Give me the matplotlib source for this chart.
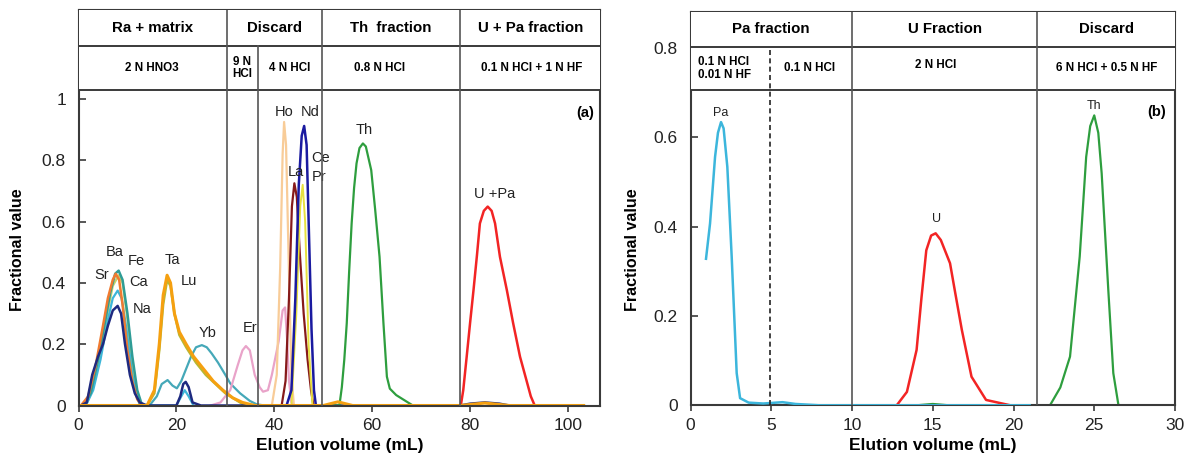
import matplotlib
matplotlib.use("Agg")
import matplotlib.pyplot as plt
from matplotlib.patches import Rectangle

plt.rcParams['font.family'] = ['Liberation Sans', 'DejaVu Sans']
NARROW = ['Liberation Sans Narrow', 'Liberation Sans', 'DejaVu Sans']

# ---------------- Panel (a) data ----------------
na_x = [0.5, 1.7, 2.8, 4.0, 5.0, 6.0, 7.0, 8.0, 8.7, 9.5, 10.5, 11.5, 12.5, 14, 20, 20.8, 21.4, 21.9, 22.5, 23.3, 25, 78, 80, 83, 86, 88]
na_y = [0, 0.01, 0.1, 0.16, 0.2, 0.26, 0.31, 0.325, 0.30, 0.2, 0.1, 0.04, 0.01, 0, 0, 0.03, 0.07, 0.077, 0.06, 0.01, 0, 0, 0.006, 0.01, 0.006, 0]

ba_x = [1, 2.5, 4, 5.5, 6.5, 7.5, 8.2, 9, 10, 11, 12, 13]
ba_y = [0, 0.04, 0.15, 0.28, 0.37, 0.43, 0.44, 0.41, 0.30, 0.16, 0.05, 0]

fe_x = [1.5, 3, 4.5, 6, 7, 8.2, 9, 10, 11, 12.5]
fe_y = [0, 0.06, 0.18, 0.31, 0.39, 0.425, 0.40, 0.28, 0.13, 0]

ca_x = [1.5, 3, 4.5, 6, 7, 8, 8.8, 9.8, 11, 12.5, 20, 21, 21.7, 22.5, 23.5]
ca_y = [0, 0.05, 0.15, 0.28, 0.35, 0.375, 0.35, 0.25, 0.10, 0, 0, 0.03, 0.05, 0.03, 0]

sr_x = [0.5, 2.0, 3.5, 5.0, 6.0, 7.0, 7.6, 8.3, 9.0, 10.0, 11.0, 12.0, 13.0]
sr_y = [0, 0.03, 0.13, 0.26, 0.35, 0.41, 0.43, 0.41, 0.33, 0.18, 0.08, 0.02, 0]

ta_x = [0, 14, 15.5, 16.5, 17.3, 18.1, 18.8, 19.6, 20.6, 22, 23.5, 25.5, 27.5, 29.5, 31.5, 33.5, 36, 50, 53, 56, 78, 83, 88, 103.2]
ta_y = [0, 0, 0.05, 0.2, 0.36, 0.425, 0.40, 0.30, 0.24, 0.20, 0.16, 0.12, 0.08, 0.05, 0.025, 0.01, 0, 0, 0.012, 0, 0, 0.008, 0, 0]

lu_x = [14, 15.5, 16.5, 17.3, 18.1, 18.8, 19.6, 20.6, 22, 24, 26, 28, 30, 32, 34]
lu_y = [0, 0.04, 0.18, 0.33, 0.41, 0.39, 0.30, 0.23, 0.19, 0.14, 0.10, 0.07, 0.04, 0.02, 0]

yb_x = [14.5, 16, 17, 18.2, 19.2, 20.1, 21, 22, 23, 24, 25.2, 26.2, 27.2, 28.5, 30, 31.0, 33, 35, 36.4, 38]
yb_y = [0, 0.03, 0.07, 0.083, 0.065, 0.056, 0.08, 0.12, 0.16, 0.19, 0.197, 0.19, 0.17, 0.14, 0.10, 0.072, 0.04, 0.015, 0.004, 0]

er_x = [27, 29, 31, 32.5, 33.5, 34.2, 35, 36, 37, 37.7, 38.7, 39.5, 40.9, 41.7, 42.2, 42.6, 43.0, 43.5, 44]
er_y = [0, 0.01, 0.05, 0.13, 0.18, 0.194, 0.18, 0.10, 0.06, 0.045, 0.05, 0.10, 0.21, 0.31, 0.32, 0.22, 0.08, 0.01, 0]

ho_x = [39.5, 40.5, 41.2, 41.7, 42.0, 42.4, 42.9, 43.5, 44.0]
ho_y = [0, 0.10, 0.45, 0.82, 0.925, 0.85, 0.50, 0.10, 0]

la_x = [41.5, 42.3, 43.0, 43.6, 44.1, 44.6, 45.2, 46.0, 46.8, 47.5, 48.0]
la_y = [0, 0.08, 0.35, 0.65, 0.725, 0.68, 0.50, 0.30, 0.15, 0.05, 0]

ce_x = [43.5, 44.5, 45.3, 45.8, 46.3, 47.0, 47.8]
ce_y = [0, 0.30, 0.65, 0.72, 0.60, 0.20, 0]

nd_x = [42.5, 43.5, 44.3, 45.0, 45.6, 46.1, 46.6, 47.1, 47.6, 48.1, 48.5]
nd_y = [0, 0.05, 0.35, 0.72, 0.88, 0.912, 0.85, 0.55, 0.25, 0.05, 0]

th_a_x = [50, 53.3, 53.8, 54.3, 54.8, 55.3, 55.8, 56.3, 56.8, 57.4, 58.1, 58.7, 59.8, 60.6, 61.5, 62.3, 63.0, 63.6, 64.9, 68.3]
th_a_y = [0, 0, 0.06, 0.15, 0.268, 0.44, 0.594, 0.71, 0.79, 0.84, 0.855, 0.845, 0.768, 0.64, 0.485, 0.268, 0.094, 0.055, 0.034, 0]

upa_x = [78.1, 78.6, 79.3, 80.0, 80.7, 81.4, 82.0, 82.8, 83.6, 84.4, 85.1, 86.1, 87.5, 88.8, 90.2, 91.5, 92.4, 93.2]
upa_y = [0, 0.05, 0.159, 0.27, 0.377, 0.49, 0.594, 0.635, 0.649, 0.635, 0.594, 0.485, 0.377, 0.268, 0.159, 0.083, 0.03, 0]

a_series = [
    (yb_x, yb_y, '#45A8B8', 1.6),
    (er_x, er_y, '#E9A3C9', 1.6),
    (fe_x, fe_y, '#C9D36A', 1.6),
    (lu_x, lu_y, '#B7B833', 1.8),
    (ca_x, ca_y, '#3CB6D8', 1.6),
    (ba_x, ba_y, '#2E9C96', 1.8),
    (sr_x, sr_y, '#F07A30', 1.8),
    (na_x, na_y, '#1E2A80', 1.8),
    (ho_x, ho_y, '#F8CC98', 1.6),
    (la_x, la_y, '#861A1A', 1.6),
    (ce_x, ce_y, '#E6E040', 1.4),
    (nd_x, nd_y, '#1A1AA0', 1.8),
    (th_a_x, th_a_y, '#2E9E3E', 1.6),
    (upa_x, upa_y, '#F22424', 1.8),
    (ta_x, ta_y, '#F5A010', 2.2),
]

a_labels = [('Ba', 7.4, 0.50), ('Fe', 11.9, 0.472), ('Sr', 4.7, 0.425), ('Ca', 12.3, 0.402),
            ('Na', 13.0, 0.315), ('Ta', 19.1, 0.476), ('Lu', 22.5, 0.405), ('Yb', 26.3, 0.238),
            ('Er', 35.0, 0.252), ('Ho', 42.0, 0.958), ('Nd', 47.3, 0.958), ('Ce', 49.4, 0.806),
            ('La', 44.4, 0.762), ('Pr', 49.2, 0.744), ('Th', 58.4, 0.90), ('U +Pa', 85.0, 0.69)]

# ---------------- Panel (b) data ----------------
pa_x = [0.96, 1.21, 1.52, 1.7, 1.89, 2.05, 2.28, 2.55, 2.86, 3.07, 3.6, 4.5, 5.7, 6.5, 8, 10, 14, 18, 21]
pa_y = [0.328, 0.407, 0.556, 0.61, 0.634, 0.62, 0.534, 0.333, 0.072, 0.016, 0.006, 0.004, 0.007, 0.003, 0, 0, 0, 0, 0]

u_x = [12.77, 13.4, 14.0, 14.3, 14.6, 14.9, 15.18, 15.5, 16.07, 16.4, 16.8, 17.4, 18.3, 19.8]
u_y = [0, 0.03, 0.124, 0.24, 0.347, 0.38, 0.385, 0.37, 0.318, 0.25, 0.169, 0.064, 0.012, 0]

th_b_x = [1.0, 10, 14, 15, 16, 21.5, 22.26, 22.9, 23.5, 24.1, 24.5, 24.75, 25.0, 25.25, 25.46, 25.87, 26.18, 26.5]
th_b_y = [0, 0, 0, 0.003, 0, 0, 0, 0.04, 0.109, 0.333, 0.556, 0.625, 0.649, 0.61, 0.519, 0.258, 0.072, 0]

b_labels = [('Pa', 1.89, 0.655), ('U', 15.24, 0.418), ('Th', 25.0, 0.670)]

# ---------------- Figure ----------------
W, H = 1197, 468
fig = plt.figure(figsize=(W / 100, H / 100), dpi=100)
spine_c = '#3a3a3a'
div_c = '#555555'


def px_axes(x0, x1, ytop, ybot):
    return fig.add_axes([x0 / W, (H - ybot) / H, (x1 - x0) / W, (ybot - ytop) / H])


def style(ax):
    for s in ax.spines.values():
        s.set_color(spine_c)
        s.set_linewidth(1.5)
    ax.tick_params(axis='x', direction='out', length=4, width=1.2, pad=5, labelsize=12.5, colors=spine_c)
    ax.tick_params(axis='y', direction='in', length=5, width=1.2, pad=9, labelsize=12.5, colors=spine_c)
    for t in ax.get_xticklabels():
        t.set_family(NARROW)
        t.set_color('#222222')
    for t in ax.get_yticklabels():
        t.set_color('#222222')


# ----- Panel (a) -----
axa = px_axes(78.5, 600, 10, 405.5)
ya_top = (405.5 - 10) / 306.5
ya_hb = (405.5 - 90) / 306.5
ya_hm = (405.5 - 46) / 306.5
axa.set_xlim(0, (600 - 78.5) / 4.895)
axa.set_ylim(0, ya_top)
for xs, ys, c, lw in a_series:
    axa.plot(xs, ys, color=c, lw=lw, solid_joinstyle='round', zorder=2)
for name, x, y in a_labels:
    axa.text(x, y, name, fontsize=10.5, ha='center', va='center', color='#222222', zorder=4)
axa.text(103.6, 0.955, '(a)', fontsize=10.5, fontweight='bold', ha='center', va='center', zorder=4)
axa.set_xticks([0, 20, 40, 60, 80, 100])
axa.set_yticks([0, 0.2, 0.4, 0.6, 0.8, 1.0])
axa.set_yticklabels(['0', '0.2', '0.4', '0.6', '0.8', '1'])
style(axa)

# header (a)
axa.add_patch(Rectangle((0, ya_hb), 200, 1, facecolor='white', edgecolor='none', zorder=5))
axa.axhline(ya_hb, color=spine_c, lw=1.4, zorder=6)
axa.axhline(ya_hm, color=spine_c, lw=1.4, zorder=6)
for xv in [30.3, 49.7, 78.0]:
    axa.plot([xv, xv], [0, ya_top], color=div_c, lw=1.2, zorder=6)
axa.plot([36.6, 36.6], [0, ya_hm], color=div_c, lw=1.2, zorder=6)

r1 = (ya_hm + ya_top) / 2
r2 = (ya_hb + ya_hm) / 2
hdr_a1 = [('Ra + matrix', 15.2), ('Discard', 40.0), ('Th  fraction', 63.8), ('U + Pa fraction', 92.3)]
hdr_a2 = [('2 N HNO3', 15.0), ('9 N\nHCl', 33.45), ('4 N HCl', 43.1), ('0.8 N HCl', 61.6), ('0.1 N HCl + 1 N HF', 92.6)]
for t, x in hdr_a1:
    axa.text(x, r1, t, fontsize=10.8, fontweight='bold', ha='center', va='center', zorder=7)
for t, x in hdr_a2:
    axa.text(x, r2, t, fontsize=8.4, fontweight='bold', ha='center', va='center', zorder=7,
             linespacing=1.0)

axa.set_ylabel('Fractional value', fontsize=11.5, fontweight='bold', labelpad=8)
axa.yaxis.set_label_coords(-(78.5 - 25) / (600 - 78.5), (405.5 - 250) / (405.5 - 10))
axa.set_xlabel('Elution volume (mL)', fontsize=12.5, fontweight='bold', family=NARROW)
axa.xaxis.set_label_coords((340 - 78.5) / (600 - 78.5), -(438 - 405.5) / (405.5 - 10))

# ----- Panel (b) -----
axb = px_axes(690.5, 1175, 11.7, 405.3)
yb_top = (405.3 - 11.7) / 446.7
yb_hb = (405.3 - 90) / 446.7
yb_hm = (405.3 - 46.7) / 446.7
axb.set_xlim(0, 30)
axb.set_ylim(0, yb_top)
axb.plot(th_b_x, th_b_y, color='#2E9E3E', lw=1.6, zorder=2)
axb.plot(u_x, u_y, color='#F22424', lw=1.8, zorder=2)
axb.plot(pa_x, pa_y, color='#3CB6DC', lw=1.8, zorder=3)
for name, x, y in b_labels:
    axb.text(x, y, name, fontsize=9, ha='center', va='center', color='#222222', zorder=4)
axb.text(28.85, 0.657, '(b)', fontsize=10.5, fontweight='bold', ha='center', va='center', zorder=4)
axb.set_xticks([0, 5, 10, 15, 20, 25, 30])
axb.set_yticks([0, 0.2, 0.4, 0.6, 0.8])
axb.set_yticklabels(['0', '0.2', '0.4', '0.6', '0.8'])
style(axb)

axb.add_patch(Rectangle((0, yb_hb), 40, 1, facecolor='white', edgecolor='none', zorder=5))
axb.axhline(yb_hb, color=spine_c, lw=1.4, zorder=6)
axb.axhline(yb_hm, color=spine_c, lw=1.4, zorder=6)
for xv in [9.98, 21.47]:
    axb.plot([xv, xv], [0, yb_top], color=div_c, lw=1.2, zorder=6)
axb.plot([4.92, 4.92], [0, yb_hm], color='#222222', lw=1.2, ls=(0, (3, 2)), zorder=6)

s1 = (yb_hm + yb_top) / 2
s2 = (yb_hb + yb_hm) / 2
hdr_b1 = [('Pa fraction', 4.98), ('U Fraction', 15.73), ('Discard', 25.73)]
for t, x in hdr_b1:
    axb.text(x, s1, t, fontsize=10.8, fontweight='bold', ha='center', va='center', zorder=7)
axb.text(0.45, s2, '0.1 N HCl\n0.01 N HF', fontsize=8.4, fontweight='bold', ha='left', va='center',
         zorder=7, linespacing=1.05)
axb.text(7.4, s2, '0.1 N HCl', fontsize=8.4, fontweight='bold', ha='center', va='center', zorder=7)
axb.text(15.2, s2 + 0.008, '2 N HCl', fontsize=8.4, fontweight='bold', ha='center', va='center', zorder=7)
axb.text(25.77, s2, '6 N HCl + 0.5 N HF', fontsize=8.4, fontweight='bold', ha='center', va='center', zorder=7)

axb.set_ylabel('Fractional value', fontsize=11.5, fontweight='bold')
axb.yaxis.set_label_coords(-(690.5 - 640) / (1175 - 690.5), (405.3 - 250) / (405.3 - 11.7))
axb.set_xlabel('Elution volume (mL)', fontsize=12.5, fontweight='bold', family=NARROW)
axb.xaxis.set_label_coords((933 - 690.5) / (1175 - 690.5), -(438 - 405.3) / (405.3 - 11.7))

fig.savefig('out.png', dpi=100)
